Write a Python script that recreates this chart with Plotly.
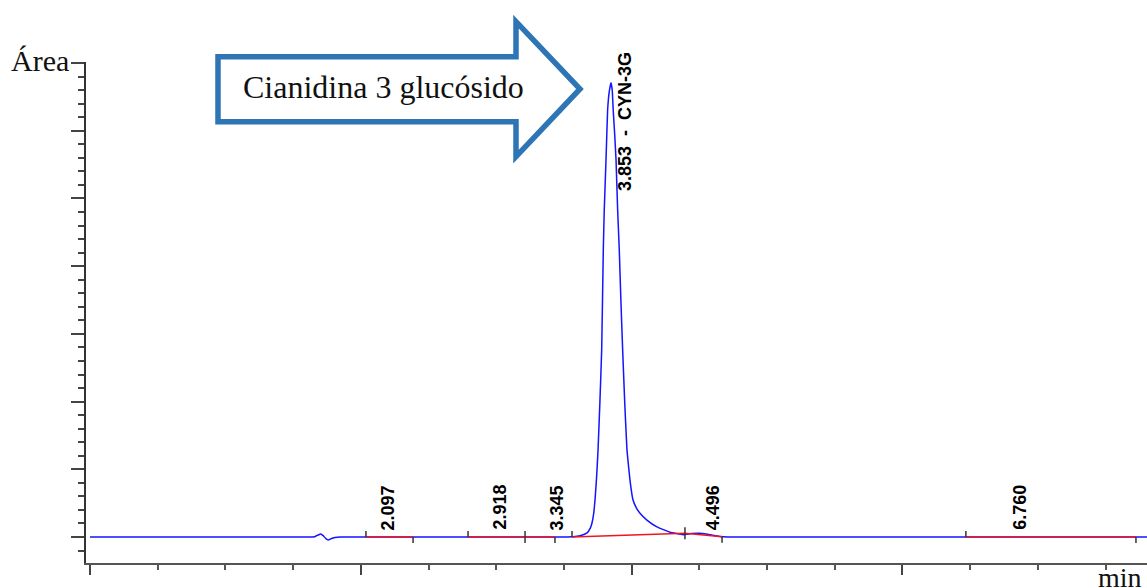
import plotly.graph_objects as go

# ---------------- data ----------------
# chromatogram (time in min, signal in area units)
time = [0.0, 1.60, 1.66, 1.685, 1.704, 1.722, 1.740, 1.760, 1.780, 1.810, 1.850,
        3.40, 3.567, 3.620, 3.671, 3.695, 3.708, 3.720, 3.730, 3.742, 3.752, 3.766,
        3.779, 3.791, 3.798, 3.811, 3.823, 3.835, 3.848, 3.857, 3.864, 3.875, 3.885,
        3.897, 3.909, 3.920, 3.934, 3.950, 3.966, 3.988, 4.010, 4.035, 4.062, 4.113,
        4.187, 4.283, 4.380, 4.440, 4.500, 4.560, 4.620, 4.680, 4.750, 7.85]
signal = [0, 0, 0.5, 3, 4.5, 2, -2, -4.5, -2.5, -0.8, 0,
          0, 0.5, 2, 6, 13, 21, 35, 55, 90, 128, 200,
          276, 424, 483, 557, 631, 658, 671, 660, 631, 595, 557,
          483, 424, 355, 276, 195, 128, 84, 55, 43, 35, 25,
          15, 7, 3.5, 5, 5.5, 4, 2, 0.5, 0, 0]

# integration baselines: start time, start level, end time, end level
seg_start_t = [2.038, 2.792, 3.213, 3.560, 4.394, 6.469]
seg_start_h = [0, 0, 0, 0, 5.5, 0]
seg_end_t = [2.386, 3.213, 3.434, 4.394, 4.668, 7.725]
seg_end_h = [0, 0, 0, 5.5, 0.5, 0]

# peak labels
peak_rt = [2.097, 2.918, 3.345, 3.853, 4.496, 6.760]
peak_names = ["2.097", "2.918", "3.345", "3.853\u00a0\u00a0-\u00a0\u00a0CYN-3G", "4.496", "6.760"]
label_level = [0, 0, 0, 501, 0, 0]

# ---------------- layout geometry ----------------
W, H = 1147, 588
L, T, B, R = 86, 62, 25, 0
PW, PH = W - L - R, H - T - B


def px(x):
    return (x - L) / PW


def py(y):
    return (H - B - y) / PH


fig = go.Figure()

# chromatogram
fig.add_trace(go.Scatter(x=time, y=signal, mode="lines",
                         line=dict(color="rgb(20,20,255)", width=1.5, shape="spline", smoothing=0.3),
                         hoverinfo="skip", showlegend=False))

# red integration baselines
bx, by = [], []
for a, ah, b, bh in zip(seg_start_t, seg_start_h, seg_end_t, seg_end_h):
    bx += [a, b, None]
    by += [ah, bh, None]
fig.add_trace(go.Scatter(x=bx, y=by, mode="lines", line=dict(color="rgb(240,20,30)", width=1.5),
                         hoverinfo="skip", showlegend=False))

# integration markers (start up, end down)
tx, ty = [], []
for a, ah in zip(seg_start_t, seg_start_h):
    tx += [a, a, None]
    ty += [ah, ah + 9, None]
for b, bh in zip(seg_end_t, seg_end_h):
    tx += [b, b, None]
    ty += [bh, bh - 9, None]
fig.add_trace(go.Scatter(x=tx, y=ty, mode="lines", line=dict(color="#333333", width=1.5),
                         hoverinfo="skip", showlegend=False))

# peak labels
for rt, name, lvl in zip(peak_rt, peak_names, label_level):
    fig.add_annotation(x=rt, y=lvl, xref="x", yref="y", text="<b>" + name + "</b>",
                       textangle=-90, showarrow=False, xanchor="center", yanchor="bottom",
                       xshift=14, yshift=5,
                       font=dict(family="Liberation Sans", size=18, color="#000", weight="bold"))

# arrow callout
pts = [(218, 56.7), (516, 56.7), (516, 21.7), (580, 89), (516, 156.7), (516, 121.7), (218, 121.7)]
path = "M " + " L ".join(f"{px(a):.5f},{py(b):.5f}" for a, b in pts) + " Z"
fig.add_shape(type="path", path=path, xref="paper", yref="paper",
              line=dict(color="rgb(46,117,182)", width=5.5), fillcolor="white", layer="above")
fig.add_annotation(x=px(383), y=py(87), xref="paper", yref="paper", text="Cianidina 3 glucósido",
                   showarrow=False, xanchor="center", yanchor="middle",
                   font=dict(family="Liberation Serif", size=32, color="#111"))

# axis titles
fig.add_annotation(x=px(71), y=py(61), xref="paper", yref="paper", text="Área", showarrow=False,
                   xanchor="right", yanchor="middle",
                   font=dict(family="Liberation Serif", size=30, color="#111"))
fig.add_annotation(x=px(1096), y=py(595), xref="paper", yref="paper", text="min", showarrow=False,
                   xanchor="left", yanchor="bottom",
                   font=dict(family="Liberation Serif", size=28, color="#111"))

fig.update_layout(
    width=W, height=H, margin=dict(l=L, r=R, t=T, b=B, pad=0),
    paper_bgcolor="white", plot_bgcolor="white", showlegend=False,
    xaxis=dict(range=[-4 / 135.4, (W - 90) / 135.4], showgrid=False, zeroline=False,
               showline=True, linecolor="#555", linewidth=1.5,
               ticks="outside", tick0=0, dtick=2, ticklen=10, tickwidth=2, tickcolor="#444",
               showticklabels=False,
               minor=dict(ticks="outside", dtick=0.5, ticklen=5, tickwidth=1.5, tickcolor="#555")),
    yaxis=dict(range=[-38.4, 701.6], showgrid=False, zeroline=False,
               showline=True, linecolor="#333", linewidth=2,
               ticks="outside", tick0=0, dtick=100, ticklen=13, tickwidth=2, tickcolor="#444",
               showticklabels=False,
               minor=dict(ticks="outside", dtick=20, ticklen=6, tickwidth=2, tickcolor="#444")),
)

fig.write_html("out.html")
